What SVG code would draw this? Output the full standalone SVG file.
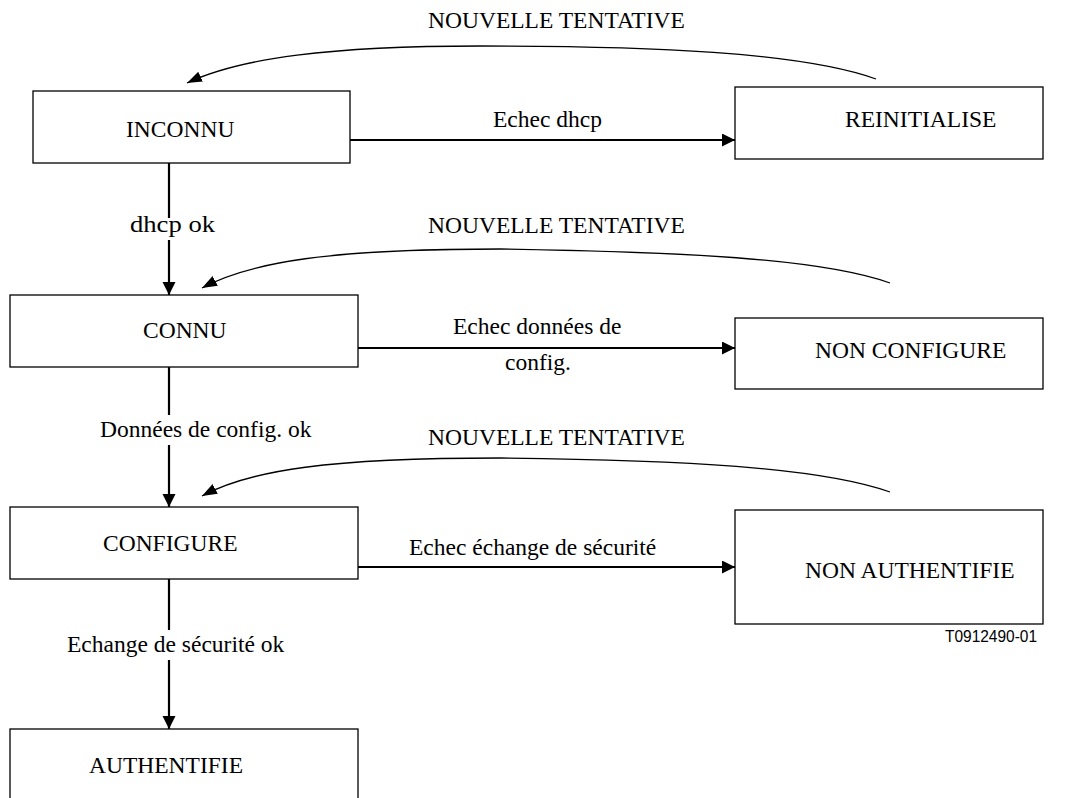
<svg xmlns="http://www.w3.org/2000/svg" width="1074" height="798" viewBox="0 0 1074 798">
<style>
.box{fill:#fff;stroke:#000;stroke-width:1.3}
.t{font-family:"Liberation Serif","Times New Roman",serif;font-size:23.5px;fill:#000}
.s{font-family:"Liberation Sans",Arial,sans-serif;font-size:16px;fill:#000}
.arr{fill:none;stroke:#000;stroke-width:2.2}
.cur{fill:none;stroke:#000;stroke-width:1.3}
</style>
<defs>
<marker id="ah" markerUnits="userSpaceOnUse" markerWidth="14" markerHeight="14" refX="13" refY="6.5" orient="auto">
<path d="M0,0 L13,6.5 L0,13 Z" fill="#000"/>
</marker>
<marker id="ahc" markerUnits="userSpaceOnUse" markerWidth="16" markerHeight="12" refX="15" refY="5.5" orient="auto">
<path d="M0,0 L15,5.5 L0,11 Z" fill="#000"/>
</marker>
</defs>
<rect width="1074" height="798" fill="#fff"/>

<g id="connectors">
<line class="arr" x1="169" y1="163" x2="169" y2="218"/>
<line class="arr" x1="169" y1="240" x2="169" y2="295" marker-end="url(#ah)"/>
<line class="arr" x1="169" y1="367" x2="169" y2="415"/>
<line class="arr" x1="169" y1="445" x2="169" y2="507" marker-end="url(#ah)"/>
<line class="arr" x1="169" y1="579" x2="169" y2="630"/>
<line class="arr" x1="169" y1="660" x2="169" y2="729" marker-end="url(#ah)"/>
<line class="arr" x1="350" y1="140" x2="735" y2="140" marker-end="url(#ah)"/>
<line class="arr" x1="358" y1="348" x2="735" y2="348" marker-end="url(#ah)"/>
<line class="arr" x1="358" y1="567" x2="735" y2="567" marker-end="url(#ah)"/>
<path class="cur" d="M876,79 C800,52 650,46 480,46 C330,46 240,58 187,83" marker-end="url(#ahc)"/>
<path class="cur" d="M890,283 C820,258 680,252 500,249 C330,249 250,262 202,288" marker-end="url(#ahc)"/>
<path class="cur" d="M890,492 C820,467 680,460 500,458 C330,458 250,470 202,496" marker-end="url(#ahc)"/>
<text class="t" x="428" y="28">NOUVELLE TENTATIVE</text>
<text class="t" x="428" y="233">NOUVELLE TENTATIVE</text>
<text class="t" x="428" y="445">NOUVELLE TENTATIVE</text>
<text class="t" x="493" y="127">Echec dhcp</text>
<text class="t" x="453" y="334">Echec données de</text>
<text class="t" x="505" y="370">config.</text>
<text class="t" x="409" y="555">Echec échange de sécurité</text>
<text class="t" x="130" y="232" textLength="85" lengthAdjust="spacingAndGlyphs">dhcp ok</text>
<text class="t" x="100" y="437">Données de config. ok</text>
<text class="t" x="67" y="652">Echange de sécurité ok</text>
</g>

<g id="inconnu">
<rect class="box" x="33" y="91" width="317" height="72"/>
<text class="t" x="126" y="137">INCONNU</text>
</g>
<g id="reinitialise">
<rect class="box" x="735" y="87" width="308" height="72"/>
<text class="t" x="845" y="127">REINITIALISE</text>
</g>
<g id="connu">
<rect class="box" x="10" y="295" width="348" height="72"/>
<text class="t" x="143" y="338">CONNU</text>
</g>
<g id="non-configure">
<rect class="box" x="735" y="318" width="308" height="71"/>
<text class="t" x="815" y="358">NON CONFIGURE</text>
</g>
<g id="configure">
<rect class="box" x="10" y="507" width="348" height="72"/>
<text class="t" x="103" y="551">CONFIGURE</text>
</g>
<g id="non-authentifie">
<rect class="box" x="735" y="510" width="308" height="114"/>
<text class="t" x="805" y="578">NON AUTHENTIFIE</text>
</g>
<g id="authentifie">
<rect class="box" x="10" y="729" width="348" height="80"/>
<text class="t" x="89" y="773">AUTHENTIFIE</text>
</g>
<text class="s" x="945" y="642" textLength="92" lengthAdjust="spacingAndGlyphs">T0912490-01</text>
</svg>
